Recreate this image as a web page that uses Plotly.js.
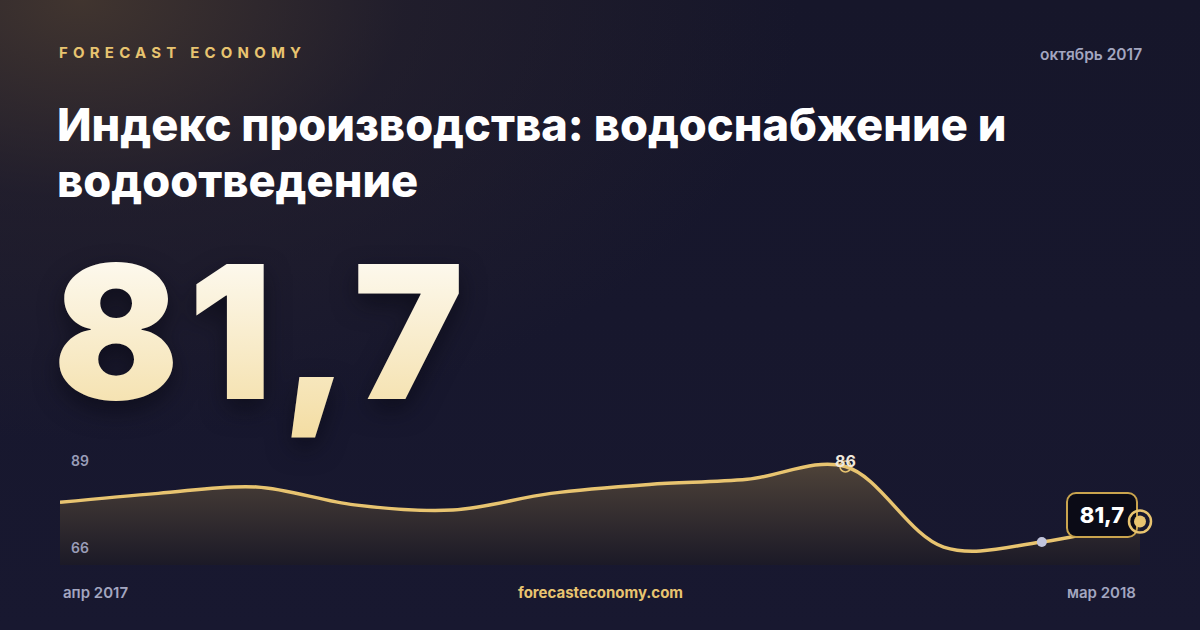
<!DOCTYPE html>
<html>
<head>
<meta charset="utf-8">
<script src="https://cdn.plot.ly/plotly-3.0.1.min.js"></script>
<style>
  html, body { margin: 0; padding: 0; }
  body {
    width: 1200px; height: 630px; overflow: hidden;
    background:
      radial-gradient(ellipse 720px 440px at 80px 0px, rgba(72,58,48,0.85) 0%, rgba(45,38,45,0.45) 45%, rgba(24,24,44,0) 100%),
      linear-gradient(180deg, #16162a 0%, #181830 100%);
  }
  #chart { width: 1200px; height: 630px; }
</style>
</head>
<body>
<div id="chart"></div>
<script>
// monthly index, apr 2017 .. mar 2018
var months = ['апр 2017', 'май 2017', 'июн 2017', 'июл 2017', 'авг 2017', 'сен 2017',
              'окт 2017', 'ноя 2017', 'дек 2017', 'янв 2018', 'фев 2018', 'мар 2018'];
var values = [83.2, 83.9, 84.4, 83.0, 82.6, 83.9, 84.6, 85.0, 86.0, 79.7, 80.1, 81.7];
var scaleLabels = ['89', '66'];
var peakIdx = 8;
var prevIdx = 10;
var lastIdx = values.length - 1;

var gold = '#e8c470';

function px(x) { return x / 1200; }
function py(y) { return 1 - y / 630; }

var area = {
    x: months, y: values,
    type: 'scatter', mode: 'lines',
    line: {color: gold, width: 3.5, shape: 'spline', smoothing: 1},
    fill: 'tozeroy',
    fillgradient: {
        type: 'vertical',
        start: 78.3, stop: 86,
        colorscale: [[0, 'rgba(28,26,38,0.9)'], [1, 'rgba(80,68,57,0.95)']]
    },
    hoverinfo: 'skip'
}
var peak = {
    x: [months[peakIdx]], y: [values[peakIdx]],
    type: 'scatter', mode: 'markers',
    marker: {symbol: 'circle-open', size: 11, color: gold, line: {width: 1.5, color: gold}},
    hoverinfo: 'skip'
}
var prev = {
    x: [months[prevIdx]], y: [values[prevIdx]],
    type: 'scatter', mode: 'markers',
    marker: {size: 10, color: '#c2c5dc'},
    hoverinfo: 'skip'
}
var lastRing = {
    x: [months[lastIdx]], y: [values[lastIdx]],
    type: 'scatter', mode: 'markers', cliponaxis: false,
    marker: {symbol: 'circle-open', size: 22, color: gold, line: {width: 2.5, color: '#d9b45a'}},
    hoverinfo: 'skip'
}
var lastDot = {
    x: [months[lastIdx]], y: [values[lastIdx]],
    type: 'scatter', mode: 'markers', cliponaxis: false,
    marker: {size: 12, color: gold},
    hoverinfo: 'skip'
}

var fmt = function (v) { return v.toFixed(1).replace('.', ','); };

var annotations = [
    {text: 'FORECAST ECONOMY', xref: 'paper', yref: 'paper', x: px(57), y: py(52),
     xanchor: 'left', yanchor: 'middle', showarrow: false,
     font: {family: 'Inter', size: 15, color: gold, weight: 700}},
    {text: 'октябрь 2017', xref: 'paper', yref: 'paper', x: px(1144), y: py(54),
     xanchor: 'right', yanchor: 'middle', showarrow: false,
     font: {family: 'Inter', size: 15.5, color: '#a3a6c0', weight: 600}},
    {text: 'Индекс производства: водоснабжение и', xref: 'paper', yref: 'paper', x: px(55), y: py(125),
     xanchor: 'left', yanchor: 'middle', showarrow: false,
     font: {family: 'Inter', size: 45.2, color: '#ffffff', weight: 800}},
    {text: 'водоотведение', xref: 'paper', yref: 'paper', x: px(55), y: py(180),
     xanchor: 'left', yanchor: 'middle', showarrow: false,
     font: {family: 'Inter', size: 45.2, color: '#ffffff', weight: 800}},
    {text: fmt(values[lastIdx]), xref: 'paper', yref: 'paper', x: px(51), y: py(331),
     xanchor: 'left', yanchor: 'middle', showarrow: false,
     font: {family: 'Inter', size: 186, color: '#f9efd6', weight: 900}},
    {text: scaleLabels[0], xref: 'paper', yref: 'paper', x: px(69), y: py(461),
     xanchor: 'left', yanchor: 'middle', showarrow: false,
     font: {family: 'Inter', size: 14, color: '#9a9db8', weight: 600}},
    {text: scaleLabels[1], xref: 'paper', yref: 'paper', x: px(69), y: py(547),
     xanchor: 'left', yanchor: 'middle', showarrow: false,
     font: {family: 'Inter', size: 14, color: '#9a9db8', weight: 600}},
    {text: String(values[peakIdx]), xref: 'x', yref: 'y', x: months[peakIdx], y: values[peakIdx],
     yshift: 6, xanchor: 'center', yanchor: 'middle', showarrow: false,
     font: {family: 'Inter', size: 16, color: '#efe8dc', weight: 700}},
    {text: fmt(values[lastIdx]), xref: 'x', yref: 'y', x: months[lastIdx], y: values[lastIdx],
     xanchor: 'right', yanchor: 'middle', xshift: -2, yshift: 7, showarrow: false,
     width: 66, height: 40, borderpad: 1,
     bgcolor: '#0b0b16', bordercolor: '#c9a44e', borderwidth: 2,
     font: {family: 'Inter', size: 22, color: '#ffffff', weight: 800}},
    {text: months[0], xref: 'x', yref: 'paper', x: months[0], y: py(592),
     xanchor: 'left', yanchor: 'middle', xshift: 1, showarrow: false,
     font: {family: 'Inter', size: 15, color: '#a3a6c0', weight: 600}},
    {text: months[lastIdx], xref: 'x', yref: 'paper', x: months[lastIdx], y: py(592),
     xanchor: 'right', yanchor: 'middle', xshift: -2, showarrow: false,
     font: {family: 'Inter', size: 15, color: '#a3a6c0', weight: 600}},
    {text: 'forecasteconomy.com', xref: 'paper', yref: 'paper', x: 0.5, y: py(592),
     xanchor: 'center', yanchor: 'middle', showarrow: false,
     font: {family: 'Inter', size: 15, color: gold, weight: 700}}
];

Plotly.newPlot('chart', [area, peak, prev, lastRing, lastDot], {
    width: 1200, height: 630,
    margin: {l: 0, r: 0, t: 0, b: 0},
    paper_bgcolor: 'rgba(0,0,0,0)',
    plot_bgcolor: 'rgba(0,0,0,0)',
    showlegend: false,
    xaxis: {type: 'category', range: [0, lastIdx], domain: [px(60), px(1140)],
            visible: false, fixedrange: true},
    yaxis: {range: [78.3, 86.9], domain: [py(565), py(455)],
            visible: false, fixedrange: true},
    annotations: annotations
}, {displayModeBar: false, staticPlot: true}).then(function (gd) {
    var ns = 'http://www.w3.org/2000/svg';
    var anns = gd.querySelectorAll('.annotation');
    var texts = gd.querySelectorAll('.annotation-text');

    // wide tracking on the brand line, keeping its left edge
    var brand = texts[0];
    var x0 = brand.getBBox().x;
    brand.style.letterSpacing = '5.2px';
    brand.setAttribute('transform', 'translate(' + (x0 - brand.getBBox().x) + ',0)');

    // gradient + soft shadow for the big number
    var svg = gd.querySelector('svg.main-svg');
    var lg = document.createElementNS(ns, 'linearGradient');
    lg.setAttribute('id', 'bigGrad');
    lg.setAttribute('x1', '0'); lg.setAttribute('y1', '0');
    lg.setAttribute('x2', '0'); lg.setAttribute('y2', '1');
    [['0', '#ffffff'], ['1', '#f3dca0']].forEach(function (s) {
        var st = document.createElementNS(ns, 'stop');
        st.setAttribute('offset', s[0]); st.setAttribute('stop-color', s[1]);
        lg.appendChild(st);
    });
    var big = texts[4];
    var bx0 = big.getBBox().x;
    big.style.letterSpacing = '9px';
    big.setAttribute('transform', 'translate(' + (bx0 - big.getBBox().x) + ',0)');
    // the annotations sit in the top svg, so the gradient goes there
    var top = big.ownerSVGElement;
    var defs = top.querySelector('defs') || top.insertBefore(document.createElementNS(ns, 'defs'), top.firstChild);
    defs.appendChild(lg);
    big.style.fill = 'url(#bigGrad)';
    big.style.filter = 'drop-shadow(0px 10px 12px rgba(5,5,15,0.55))';

    // rounded value box, slid under the end marker
    var box = anns[8];
    var bg = box.querySelector('rect.bg');
    if (bg) { bg.setAttribute('rx', 9); bg.setAttribute('ry', 9); }
    var layer = gd.querySelector('.cartesianlayer .scatterlayer');
    var traces = layer.querySelectorAll('.trace');
    var wrap = document.createElementNS(ns, 'g');
    wrap.setAttribute('transform', 'translate(' + (-gd._fullLayout.xaxis._offset) + ',' + (-gd._fullLayout.yaxis._offset) + ')');
    wrap.appendChild(box);
    layer.insertBefore(wrap, traces[3]);
});
</script>
</body>
</html>
